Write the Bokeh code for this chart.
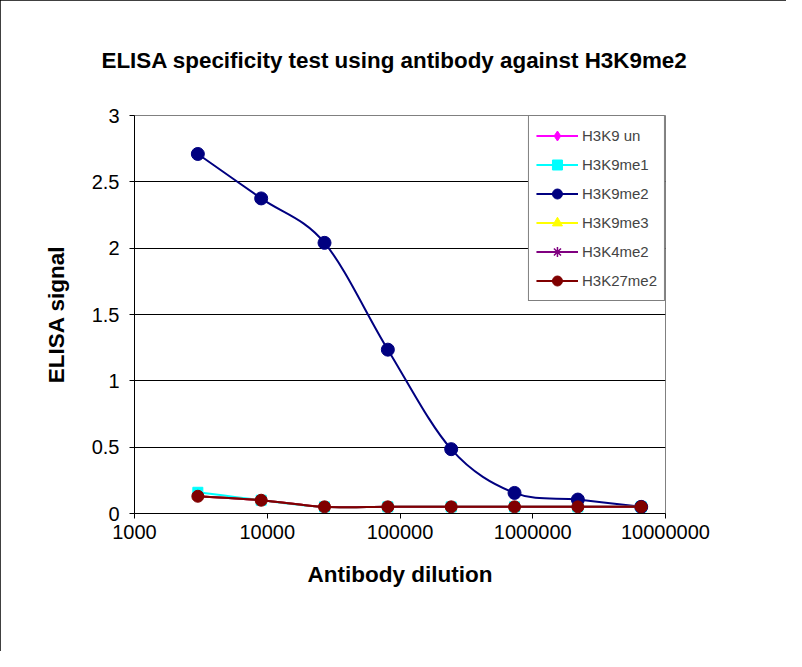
import numpy as np
from bokeh.plotting import figure
from bokeh.models import FixedTicker, Legend, LegendItem, ColumnDataSource
from bokeh.embed import file_html
from bokeh.resources import INLINE

# ---- data ----
dilutions = [3000, 9000, 27000, 81000, 243000, 729000, 2187000, 6561000]
series_names = ["H3K9 un", "H3K9me1", "H3K9me2", "H3K9me3", "H3K4me2", "H3K27me2"]
h3k9_un = [0.13, 0.10, 0.05, 0.05, 0.05, 0.05, 0.05, 0.05]
h3k9me1 = [0.16, 0.10, 0.05, 0.05, 0.05, 0.05, 0.05, 0.05]
h3k9me2 = [2.71, 2.375, 2.04, 1.235, 0.485, 0.155, 0.105, 0.05]
h3k9me3 = [0.13, 0.10, 0.05, 0.05, 0.05, 0.05, 0.05, 0.05]
h3k4me2 = [0.13, 0.10, 0.05, 0.05, 0.05, 0.05, 0.05, 0.05]
h3k27me2 = [0.13, 0.10, 0.05, 0.05, 0.05, 0.05, 0.05, 0.05]
x_ticks = [1000, 10000, 100000, 1000000, 10000000]
x_tick_labels = ["1000", "10000", "100000", "1000000", "10000000"]
y_ticks = [0, 0.5, 1, 1.5, 2, 2.5, 3]
y_tick_labels = ["0", "0.5", "1", "1.5", "2", "2.5", "3"]

values = [h3k9_un, h3k9me1, h3k9me2, h3k9me3, h3k4me2, h3k27me2]
colors = ["#FF00FF", "#00FFFF", "#000080", "#FFFF00", "#800080", "#800000"]
markers = ["diamond", "square", "circle", "triangle", "asterisk", "circle"]
sizes = [11, 10, 13, 10, 10, 12]

FONT = "Liberation Sans"

W, H = 786, 651
p = figure(width=W, height=H, x_axis_type="log", x_range=(1000, 10000000), y_range=(0, 3),
           output_backend="svg", toolbar_location=None,
           min_border_left=134, min_border_right=121, min_border_top=115, min_border_bottom=138)
p.styles = {"outline": "1px solid black", "outline-offset": "-1px"}

p.title.text = "ELISA  specificity test using antibody against H3K9me2"
p.title.align = "left"
p.title.offset = -33
p.title.text_font = FONT
p.title.text_font_size = "22.4px"
p.title.text_font_style = "bold"
p.title.text_color = "black"
p.title.standoff = 85

p.outline_line_color = "#808080"
p.xgrid.visible = False
p.ygrid.grid_line_color = "black"
p.ygrid.grid_line_width = 1
p.ygrid.ticker = FixedTicker(ticks=y_ticks)

p.xaxis.ticker = FixedTicker(ticks=x_ticks)
p.xaxis.major_label_overrides = dict(zip(x_ticks, x_tick_labels))
p.yaxis.ticker = FixedTicker(ticks=y_ticks)
p.yaxis.major_label_overrides = dict(zip(y_ticks, y_tick_labels))

for ax in (p.xaxis[0], p.yaxis[0]):
    ax.axis_line_color = "black"
    ax.major_tick_line_color = "black"
    ax.major_tick_out = 5
    ax.major_tick_in = 0
    ax.minor_tick_out = 0
    ax.minor_tick_in = 0
    ax.major_label_text_font = FONT
    ax.major_label_text_font_size = "20px"
    ax.major_label_text_color = "black"
    ax.axis_label_text_font = FONT
    ax.axis_label_text_font_size = "22.5px"
    ax.axis_label_text_font_style = "bold"
    ax.axis_label_text_color = "black"

p.xaxis.axis_label = "Antibody dilution"
p.yaxis.axis_label = "ELISA signal"
p.xaxis.major_label_standoff = 6
p.yaxis.major_label_standoff = 10
p.xaxis.axis_label_standoff = 20
p.yaxis.axis_label_standoff = 20

lx = np.log10(np.array(dilutions, dtype=float))
items = []
for name, vals, col, mk, sz in zip(series_names, values, colors, markers, sizes):
    y = np.array(vals, dtype=float)
    n = len(lx)
    idx = np.arange(n)
    prev = np.clip(idx - 1, 0, n - 1)
    nxt = np.clip(idx + 1, 0, n - 1)
    # smoothed (Excel-like) curve: cubic Bezier segments in screen-affine space
    i0 = idx[:-1]
    i1 = idx[1:]
    c0x = lx[i0] + (lx[nxt[i0]] - lx[prev[i0]]) / 6.0
    c0y = y[i0] + (y[nxt[i0]] - y[prev[i0]]) / 6.0
    c1x = lx[i1] - (lx[nxt[i1]] - lx[prev[i1]]) / 6.0
    c1y = y[i1] - (y[nxt[i1]] - y[prev[i1]]) / 6.0
    src = ColumnDataSource(dict(x0=10 ** lx[i0], y0=y[i0], x1=10 ** lx[i1], y1=y[i1],
                                cx0=10 ** c0x, cy0=c0y, cx1=10 ** c1x, cy1=c1y))
    bz = p.bezier(x0="x0", y0="y0", x1="x1", y1="y1", cx0="cx0", cy0="cy0", cx1="cx1", cy1="cy1",
                  source=src, line_color=col, line_width=2)
    lw = 1.5 if mk == "asterisk" else 1
    sc = p.scatter(x=dilutions, y=vals, marker=mk, size=sz, line_color=col,
                   fill_color=col, line_width=lw)
    items.append(LegendItem(label=name, renderers=[bz, sc]))

legend = Legend(items=items, location="top_right", margin=0, padding=7, spacing=4,
                glyph_width=42, glyph_height=25, label_height=20, label_standoff=4,
                label_text_font=FONT, label_text_font_size="15px",
                border_line_color="black", border_line_width=1,
                background_fill_color="white", background_fill_alpha=1)
p.add_layout(legend)

open("out.html", "w").write(file_html(p, INLINE))
